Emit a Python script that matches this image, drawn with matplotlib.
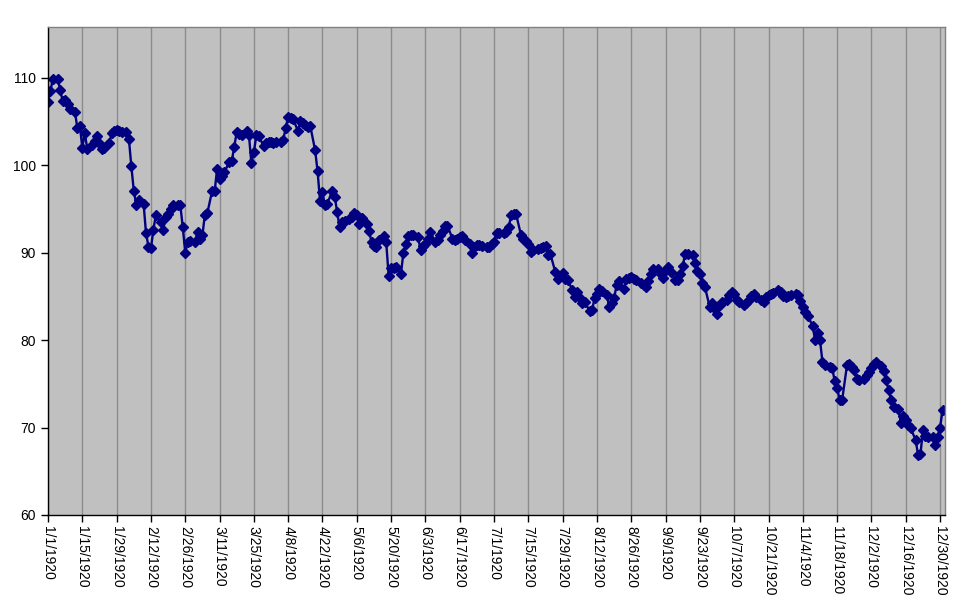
import datetime as dt
import pandas as pd
import matplotlib
matplotlib.use("Agg")
import matplotlib.pyplot as plt
import matplotlib.dates as mdates
from matplotlib.ticker import FuncFormatter

# daily closes, Mon-Sat
q1 = [107.2, 108.5, 109.9,                      # Jan 1-3
      109.8, 108.6, 107.3, 107.5, 107.0, 106.4,
      106.1, 104.2, 104.5, 102.0, 103.7, 101.9,
      102.3, 102.8, 103.3, 102.5, 101.8, 102.0,
      102.5, 103.7, 103.9, 104.0, 103.9, 103.8,
      103.8, 103.0, 99.9, 97.1, 95.5, 96.0,      # Feb 2
      95.6, 92.2, 90.7, 90.5, 92.6, 94.3,
      93.5, 92.6, 94.1, 94.4, 95.0, 95.4,
      95.5, 95.4, 92.9, 90.0, 91.2, 91.3,
      91.2, 92.4, 91.6, 92.0, 94.3, 94.5,        # Mar 1
      97.1, 97.0, 99.6, 98.4, 98.8, 99.2,
      100.4, 100.5, 102.1, 103.8, 103.6, 103.5,
      103.9, 103.4, 100.2, 101.5, 103.4, 103.3]
q2 = [102.2, 102.5, 102.7, 102.6, 102.5, 102.6,  # Mar 29
      102.7, 102.9, 104.3, 105.5, 105.4, 105.3,
      103.9, 105.0, 104.8, 104.6, 104.4, 104.5,
      101.7, 99.3, 95.9, 96.9, 95.4, 95.6,
      97.1, 96.4, 94.6, 92.9, 93.5, 93.6,
      93.9, 94.1, 94.5, 94.3, 93.3, 94.0,        # May 3
      93.3, 92.5, 91.2, 90.8, 90.7, 91.4,
      91.9, 91.2, 87.3, 88.2, 88.3, 88.4,
      87.5, 90.0, 91.0, 91.9, 92.0, 92.0,
      91.8, 90.3, 90.8, 91.0, 91.6, 92.4,        # May 31
      91.2, 91.4, 92.0, 92.5, 93.0, 93.1,
      91.6, 91.4, 91.6, 91.8, 91.9, 91.5,
      91.0, 90.0, 90.6, 90.9, 90.9, 90.8]
q3 = [90.6, 90.7, 91.0, 91.2, 92.2, 92.2,        # Jun 28
      92.2, 92.4, 92.9, 94.3, 94.4, 94.4,
      92.0, 91.6, 91.3, 91.0, 90.1, 90.3,
      90.4, 90.5, 90.7, 90.8, 89.7, 89.8,
      87.8, 87.0, 87.3, 87.7, 87.0, 86.9,
      85.7, 84.9, 85.5, 84.8, 84.2, 84.4,        # Aug 2
      83.3, 83.4, 84.8, 85.3, 85.8, 85.6,
      85.2, 83.8, 84.2, 84.8, 86.3, 86.8,
      85.8, 87.0, 87.1, 87.2, 87.0, 86.9,
      86.5, 86.3, 86.1, 86.8, 87.6, 88.1,        # Aug 30
      88.1, 87.6, 87.1, 88.0, 88.4, 87.8,
      86.9, 86.9, 87.6, 88.5, 89.9, 89.8,
      89.7, 88.8, 87.9, 87.5, 86.5, 86.1]
q4 = [83.8, 84.2, 83.5, 83.0, 84.0, 84.4,        # Sep 27
      84.6, 85.1, 85.5, 85.3, 84.6, 84.3,
      84.0, 84.2, 84.6, 85.0, 85.3, 84.9,
      84.6, 84.4, 84.9, 85.1, 85.3, 85.4,
      85.7, 85.5, 85.0, 84.9, 85.0, 85.1,
      85.3, 85.1, 84.5, 83.8, 83.2, 82.8,        # Nov 1
      81.6, 80.0, 80.8, 80.0, 77.5, 77.1,
      76.9, 76.8, 75.3, 74.5, 73.2, 73.1,
      77.1, 77.3, 76.9, 76.6, 75.5, 75.4,
      75.5, 76.0, 76.4, 76.8, 77.3, 77.5,        # Nov 29
      77.0, 76.5, 75.4, 74.3, 73.2, 72.3,
      72.1, 70.5, 71.3, 70.9, 70.3, 69.9,
      68.6, 66.9, 67.0, 69.7, 69.0, 68.9,
      68.9, 68.0, 68.9, 70.0, 72.0]

values = q1 + q2 + q3 + q4
dates = pd.bdate_range("1920-01-01", "1920-12-31", freq="C",
                       weekmask="Mon Tue Wed Thu Fri Sat")
assert len(dates) == len(values), (len(dates), len(values))

tick_dates = pd.date_range("1920-01-01", "1920-12-30", freq="14D")
y_ticks = [60, 70, 80, 90, 100, 110]

plt.rcParams["font.family"] = ["Liberation Sans", "DejaVu Sans"]

fig = plt.figure(figsize=(9.71, 6.05), dpi=100)
ax = fig.add_axes([48 / 971, 90 / 605, 897 / 971, 488 / 605])
ax.set_facecolor("#C0C0C0")

ax.plot(dates, values, color="#000080", linewidth=1.7, marker="D",
        markersize=5.2, markerfacecolor="#000080", markeredgecolor="#000080")

ax.set_xlim(dt.datetime(1920, 1, 1), dt.datetime(1921, 1, 1))
ax.set_ylim(60, 115.8)
ax.set_yticks(y_ticks)
ax.set_xticks(tick_dates)
ax.xaxis.set_major_formatter(FuncFormatter(
    lambda v, pos: (lambda d: f"{d.month}/{d.day}/{d.year}")(mdates.num2date(v))))

ax.grid(axis="x", color="#8C8C8C", linewidth=1.0)
ax.set_axisbelow(True)

for s in ["top", "right"]:
    ax.spines[s].set_color("#808080")
    ax.spines[s].set_linewidth(1.0)
for s in ["left", "bottom"]:
    ax.spines[s].set_color("black")
    ax.spines[s].set_linewidth(1.0)

ax.tick_params(axis="both", direction="out", length=5, width=1, colors="black",
               labelsize=10)
ax.tick_params(axis="x", pad=3)
plt.setp(ax.get_xticklabels(), rotation=270, ha="center", va="top")

fig.savefig("out.png", dpi=100)
